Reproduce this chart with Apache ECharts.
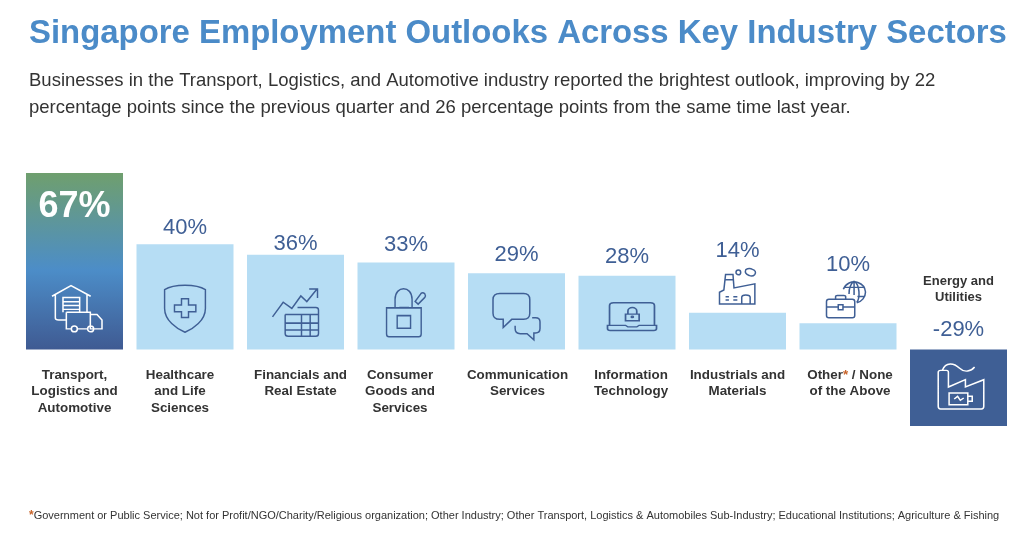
<!DOCTYPE html>
<html><head><meta charset="utf-8">
<style>html,body{margin:0;padding:0;background:#fff}#c{width:1024px;height:541px}</style>
<script src="https://cdn.jsdelivr.net/npm/echarts@6/dist/echarts.min.js"></script>
</head><body><div id="c"></div>
<script>
const categories = ['Transport,\nLogistics and\nAutomotive','Healthcare\nand Life\nSciences','Financials and\nReal Estate','Consumer\nGoods and\nServices','Communication\nServices','Information\nTechnology','Industrials and\nMaterials','Other{a|*} / None\nof the Above','Energy and\nUtilities'];
const values = [67,40,36,33,29,28,14,10,-29];
const titleText = 'Singapore Employment Outlooks Across Key Industry Sectors';
const subtitleText = 'Businesses in the Transport, Logistics, and Automotive industry reported the brightest outlook, improving by 22\npercentage points since the previous quarter and 26 percentage points from the same time last year.';
const footnoteText = '{a|*}{b|Government or Public Service; Not for Profit/NGO/Charity/Religious organization; Other Industry; Other Transport, Logistics & Automobiles Sub-Industry; Educational Institutions; Agriculture & Fishing}';

const circle=(x,y,r)=>`M${x-r} ${y}a${r} ${r} 0 1 0 ${2*r} 0a${r} ${r} 0 1 0 ${-2*r} 0Z`;
const iconPaths = [
 `M155 408L212 375L271 408M165 402V476Q165 482 175 482H198M260 402V458M188 458V412H238V458M188 425H238M188 437H238M188 449H238M198 458H270V510H282M198 458V510H213M231 510H262M270 465H290L305 482V510H280${circle(222,510,9)}${circle(271,510,9)}`,
 `M556 377C525 377 505 382 492 390V445C492 480 530 505 556 515C582 505 620 480 620 445V390C607 382 587 377 556 377ZM545 417H567V435H590V455H567V472H545V455H523V435H545Z`,
 `M815 472L847 430L873 448L900 412L918 428L948 393M925 392H950V418M853 465V520Q853 528 862 528H945Q953 528 953 520V452Q953 445 945 445H890M853 465H953M853 490H953M853 510H953M902 465V528M928 465V528`,
 `M108 295H222V372Q222 380 214 380H116Q108 380 108 372ZM136 295V270C136 228 192 228 192 270V295M150 294H182M143 318H187V355H143ZM202 276L222 252Q228 248 234 254Q238 260 234 264L212 284Z`,
 `M450 252H520Q538 252 538 270V310Q538 328 520 328H485L460 352V328H450Q430 328 430 310V270Q430 252 450 252ZM545 323H555Q568 323 568 335V355Q568 368 555 368H550V388L530 370H510Q495 370 495 355V347`,
 `M778 355V280Q778 268 790 268H898Q910 268 910 280V355M772 356H825L832 362H858L865 356H916V368Q916 376 908 376H780Q772 376 772 368ZM825 312H865V338H825ZM832 312V300C832 282 858 282 858 300V312${circle(845,323,3)}`,
 `M117 220V185L130 178L135 132H157L160 172L222 160V220ZM183 220V200Q183 193 195 193Q208 193 208 200V220M135 198H145M158 198H170M135 208H145M158 208H170M133 148H157${circle(173,126,7)}M195 118Q205 112 215 117Q228 122 222 132Q215 140 205 135Q190 130 195 118Z`,
 `M445 208H515Q522 208 522 215V258Q522 265 515 265H445Q438 265 438 258V215Q438 208 445 208ZM465 208V200Q465 197 470 197H490Q495 197 495 200V208M438 232H473M487 232H522M473 225H487V240H473ZM488 178A34 34 0 0 1 554 186A34 34 0 0 1 528 219M520 153C505 165 505 180 505 192M520 153C538 165 538 205 528 218M520 153V195M495 172H547M530 200H552`,
 `M778 530V428Q778 422 785 422H802Q808 422 808 428V472L858 450V472L912 450V530Q912 538 905 538H785Q778 538 778 530ZM790 422C800 395 825 400 840 415C855 430 875 425 885 412M810 490H865V525H810ZM865 500H878V515H865M825 508L835 500L843 512L853 505`
];
const iconLevels = [15.5,15.5,14,14,12.5,12.5,24,19,-14];
const iconSizes = [[50,48],[44,47],[46,48],[43,48],[47,47],[49,37],[36,36],[39,38],[46,45]];
const iconShift = [2.5,0,0,0,0,5,0,-2,2.5];
const labelLift = [0,5,0,7,7,8,51,47,9];
const axisLabelShift = [0,-5,5,-6,1,4,0,2,0];

const font = '"Liberation Sans", Arial, sans-serif';
const navy = '#3F5F95', pale = '#B6DDF4', ink = '#333333', orange = '#C8642A';
const gradient = {type:'linear',x:0,y:0,x2:0,y2:1,colorStops:[{offset:0,color:'#6F9F6E'},{offset:0.55,color:'#4C8DC8'},{offset:1,color:'#3F5A92'}]};

const barData = values.map((v,i)=>{
  if(i===0) return {value:v,itemStyle:{color:gradient},label:{position:'insideTop',distance:16,color:'#fff',fontSize:36,fontWeight:'bold',fontFamily:font}};
  if(v<0) return {value:v,itemStyle:{color:navy},label:{position:'top',distance:labelLift[i],formatter:p=>'{n|'+categories[i].split('\n').join('}\n{n|')+'}\n{v|'+p.value+'%}',
    rich:{n:{fontFamily:font,fontSize:13,fontWeight:'bold',color:ink,lineHeight:16,align:'center'},v:{fontFamily:font,fontSize:22,color:navy,lineHeight:35,align:'center',verticalAlign:'bottom'}}}};
  return {value:v,itemStyle:{color:pale},label:{distance:labelLift[i]}};
});
const chart = echarts.init(document.getElementById('c'),null,{renderer:'canvas'});
chart.setOption({
  animation:false,
  backgroundColor:'#fff',
  title:[
    {text:titleText,left:29,top:17,padding:0,textStyle:{fontFamily:font,fontSize:32.9,fontWeight:'bold',color:'#4B8BC8'}},
    {text:subtitleText,left:29,top:67,padding:0,textStyle:{fontFamily:font,fontSize:18.5,fontWeight:'normal',color:ink,lineHeight:27}},
    {text:footnoteText,left:29,top:510,padding:0,textStyle:{fontFamily:font,fontWeight:'normal',rich:{a:{color:orange,fontSize:12,fontWeight:'bold',fontFamily:font},b:{color:ink,fontSize:11,fontWeight:'normal',fontFamily:font}}}}
  ],
  grid:{left:19.25,width:994.5,top:173,height:253,containLabel:false},
  xAxis:{type:'category',
    data:categories.map((c,i)=>({value:i===8?'':c,textStyle:{padding:axisLabelShift[i]<0?[0,-2*axisLabelShift[i],0,0]:[0,0,0,2*axisLabelShift[i]]}})),
    axisLine:{show:false},axisTick:{show:false},
    axisLabel:{interval:0,margin:-59,fontFamily:font,fontSize:13.4,fontWeight:'bold',color:ink,lineHeight:16.5,align:'center',verticalAlign:'top',
      rich:{a:{color:orange,fontFamily:font,fontSize:13.4,fontWeight:'bold',lineHeight:16.5}}}},
  yAxis:{type:'value',min:-29,max:67,show:false,splitLine:{show:false}},
  series:[
    {type:'bar',barWidth:97,data:barData,silent:true,
     label:{show:true,position:'top',formatter:'{c}%',fontFamily:font,fontSize:22,color:navy}},
    {type:'scatter',silent:true,z:5,clip:false,
     data:iconLevels.map((v,i)=>({value:[i,v],symbol:'path://'+iconPaths[i],symbolSize:iconSizes[i],symbolKeepAspect:true,symbolOffset:[iconShift[i],0],
       itemStyle:{color:'rgba(0,0,0,0)',borderColor:(i===0||i===8)?'#ffffff':navy,borderWidth:1.5,opacity:1}}))}
  ]
});
</script></body></html>
